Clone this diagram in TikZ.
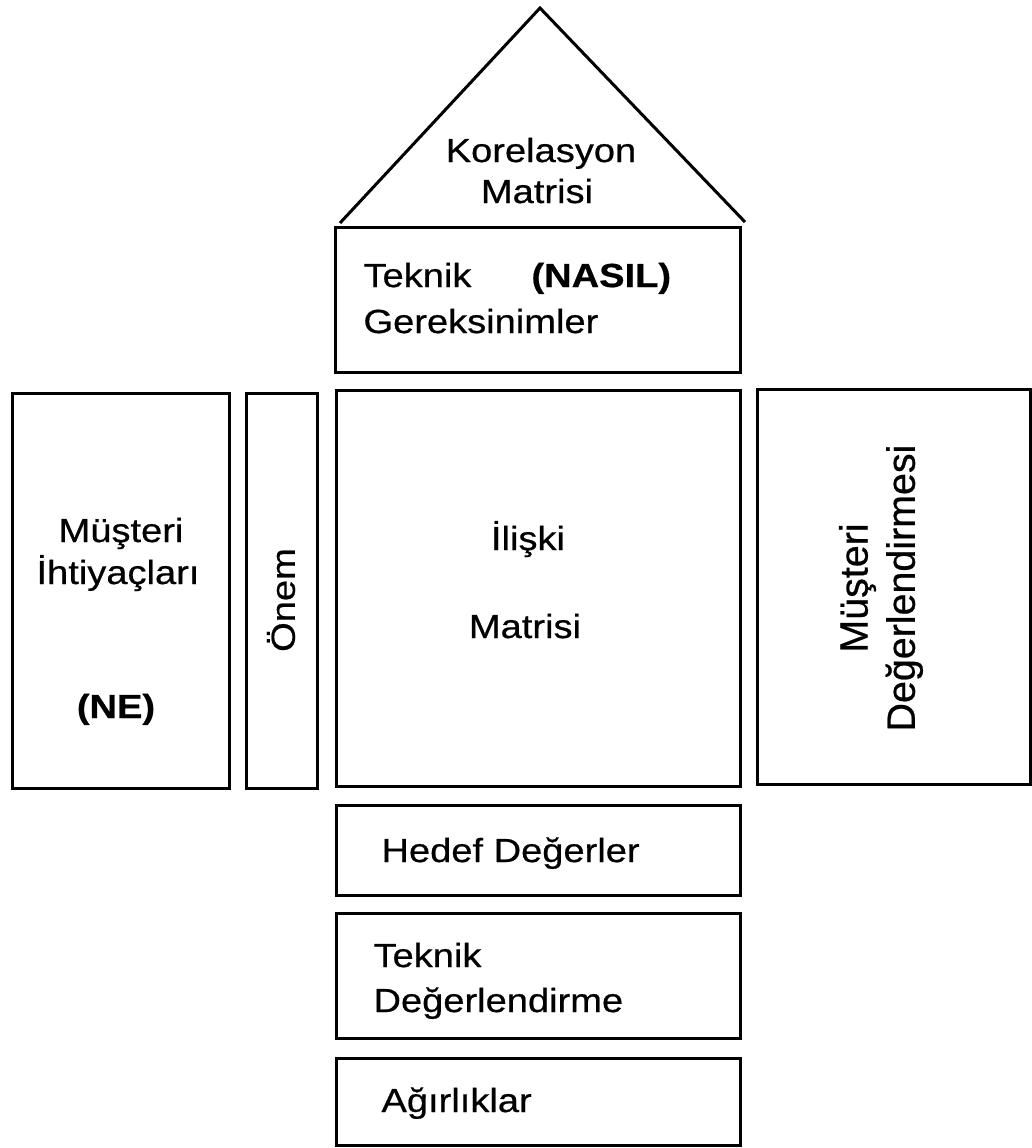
\documentclass[tikz,border=0pt]{standalone}
\usepackage{fontspec}
\setmainfont{Liberation Sans}[FakeStretch=1.14, FakeBold=0.6]
\newfontfamily\plainsans{Liberation Sans}[FakeBold=0.6]
\usetikzlibrary{fit}

\begin{document}
\begin{tikzpicture}[x=0.5pt,y=-0.5pt,
  line width=1.5pt,
  panel/.style={draw, rectangle, inner sep=0pt, outer sep=0pt},
  label/.style={inner sep=0pt, font=\fontsize{16.7}{20}\selectfont},
  tag/.style={label, font=\fontsize{16.7}{20}\selectfont\bfseries},
  side/.style={inner sep=0pt, rotate=90, align=center,
               font=\plainsans\fontsize{19.7}{23.6}\selectfont}]

  % page frame
  \useasboundingbox (0,0) rectangle (1032,1148);

  % roof: correlation matrix
  \coordinate (roofL) at (340,223);
  \coordinate (roofT) at (540,8);
  \coordinate (roofR) at (745,222);
  \draw (roofL) -- (roofT) -- (roofR);
  \node[label, anchor=base] (korel) at (541,162) {Korelasyon};
  \node[label, anchor=base] (korelm) at (537,203) {Matrisi};

  % technical requirements
  \node[panel, fit={(335,227) (740,372)}] (tech) {};
  \node[label, anchor=base west] (techa) at (362,287) {Teknik};
  \node[tag, anchor=base west] (nasil) at (530,287) {(NASIL)};
  \node[label, anchor=base west] (techb) at (362,333) {Gereksinimler};

  % customer needs
  \node[panel, fit={(12,393) (229,788)}] (needs) {};
  \node[label, anchor=base] (needsa) at (121,542) {Müşteri};
  \node[label, anchor=base] (needsb) at (118,584) {İhtiyaçları};
  \node[tag, anchor=base] (ne) at (116,718) {(NE)};

  % importance column
  \node[panel, fit={(246,393) (317,788)}] (onem) {};
  \node[label, rotate=90] (onemt) at (281,600) {Önem};

  % relationship matrix
  \node[panel, fit={(336,390) (740,786)}] (rel) {};
  \node[label, anchor=base] (rela) at (528,550) {İlişki};
  \node[label, anchor=base] (relb) at (525,638) {Matrisi};

  % customer evaluation
  \node[panel, fit={(757,389) (1030,784)}] (eval) {};
  \node[side] (evalt) at (881,588) {Müşteri\\Değerlendirmesi};

  % target values
  \node[panel, fit={(336,805) (740,895)}] (target) {};
  \node[label, anchor=base west] (targett) at (380,862) {Hedef Değerler};

  % technical evaluation
  \node[panel, fit={(336,913) (740,1038)}] (techeval) {};
  \node[label, anchor=base west] (techevala) at (372,967) {Teknik};
  \node[label, anchor=base west] (techevalb) at (372,1012) {Değerlendirme};

  % weights
  \node[panel, fit={(336,1058) (740,1145)}] (weights) {};
  \node[label, anchor=base west] (weightst) at (380,1112) {Ağırlıklar};
\end{tikzpicture}
\end{document}
